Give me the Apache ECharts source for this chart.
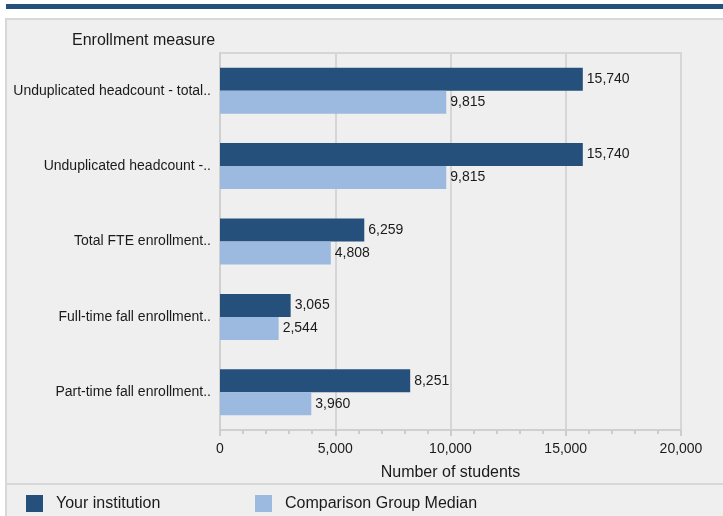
<!DOCTYPE html>
<html>
<head>
<meta charset="utf-8">
<script src="https://cdn.jsdelivr.net/npm/echarts@6/dist/echarts.min.js"></script>
<style>
html,body{margin:0;padding:0;background:#fff;}
#chart{width:723px;height:516px;}
</style>
</head>
<body>
<div id="chart"></div>
<script>
const categories = [
  'Unduplicated headcount - total..',
  'Unduplicated headcount -..',
  'Total FTE enrollment..',
  'Full-time fall enrollment..',
  'Part-time fall enrollment..'
];
const yourInstitution = [15740, 15740, 6259, 3065, 8251];
const comparisonMedian = [9815, 9815, 4808, 2544, 3960];
const xTicks = [0, 5000, 10000, 15000, 20000];

const FONT = '"Liberation Sans", Arial, sans-serif';
const fmt = v => String(v).replace(/\B(?=(\d{3})+(?!\d))/g, ',');

const chart = echarts.init(document.getElementById('chart'), null, {renderer: 'canvas'});
chart.setOption({
  backgroundColor: '#ffffff',
  animation: false,
  textStyle: {fontFamily: FONT},
  graphic: [
    {type: 'rect', z: -10, shape: {x: 6, y: 4, width: 717, height: 5}, style: {fill: '#25507B'}},
    {type: 'rect', z: -10, shape: {x: 6, y: 19, width: 730, height: 510}, style: {fill: '#efefef', stroke: '#d8d8d8', lineWidth: 2}},
    {type: 'line', z: -9, shape: {x1: 6, y1: 484, x2: 723, y2: 484}, style: {stroke: '#d8d8d8', lineWidth: 2}}
  ],
  title: {
    text: 'Enrollment measure',
    left: 67, top: 28,
    textStyle: {fontFamily: FONT, fontSize: 16, fontWeight: 'normal', color: '#1a1a1a'}
  },
  legend: [
    {
      data: ['Your institution'], left: 21, top: 490, itemWidth: 17, itemHeight: 17, icon: 'rect',
      textStyle: {fontFamily: FONT, fontSize: 16, color: '#1a1a1a', padding: [0, 0, 0, 8]}
    },
    {
      data: ['Comparison Group Median'], left: 250, top: 490, itemWidth: 17, itemHeight: 17, icon: 'rect',
      textStyle: {fontFamily: FONT, fontSize: 16, color: '#1a1a1a', padding: [0, 0, 0, 8]}
    }
  ],
  grid: {
    left: 220, right: 42, top: 53, bottom: 86,
    show: true, borderColor: '#d6d6d6', borderWidth: 2, backgroundColor: 'transparent'
  },
  xAxis: {
    type: 'value', min: xTicks[0], max: xTicks[xTicks.length - 1], interval: xTicks[1] - xTicks[0],
    name: 'Number of students', nameLocation: 'middle', nameGap: 35,
    nameTextStyle: {fontFamily: FONT, fontSize: 16, color: '#1a1a1a'},
    axisLine: {show: true, lineStyle: {color: '#d0d0d0', width: 2}},
    axisTick: {show: true, length: 6, lineStyle: {color: '#cccccc', width: 2}},
    minorTick: {show: true, splitNumber: 5, length: 4, lineStyle: {color: '#cccccc', width: 2}},
    splitLine: {show: true, lineStyle: {color: '#d6d6d6', width: 2}},
    axisLabel: {fontFamily: FONT, fontSize: 14, color: '#1a1a1a', margin: 12, formatter: v => fmt(v)}
  },
  yAxis: {
    type: 'category', data: categories, inverse: true,
    axisLine: {show: true, lineStyle: {color: '#d0d0d0', width: 2}},
    axisTick: {show: false},
    axisLabel: {fontFamily: FONT, fontSize: 14, color: '#1a1a1a', margin: 9}
  },
  series: [
    {
      name: 'Your institution', type: 'bar', data: yourInstitution,
      barWidth: 23, barGap: '0%',
      itemStyle: {color: '#25507B'},
      label: {show: true, position: 'right', distance: 4, fontFamily: FONT, fontSize: 14, color: '#1a1a1a', formatter: p => fmt(p.value)}
    },
    {
      name: 'Comparison Group Median', type: 'bar', data: comparisonMedian,
      barWidth: 23, barGap: '0%',
      itemStyle: {color: '#9CBADF'},
      label: {show: true, position: 'right', distance: 4, fontFamily: FONT, fontSize: 14, color: '#1a1a1a', formatter: p => fmt(p.value)}
    }
  ]
});
</script>
</body>
</html>
